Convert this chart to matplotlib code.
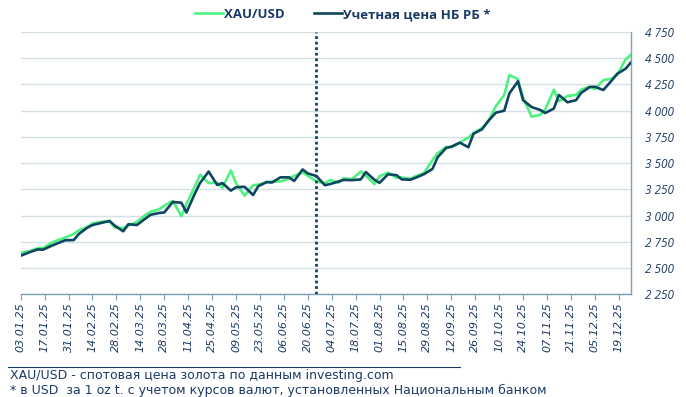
import pandas as pd
import numpy as np
import matplotlib
matplotlib.use('Agg')
import matplotlib.pyplot as plt
import matplotlib.dates as mdates
from matplotlib.ticker import FuncFormatter

# sample dates: every 3rd business day, 03.01.25 - 26.12.25
dates = pd.bdate_range('2025-01-03', '2025-12-26', freq='3B')

# XAU/USD spot (green)
xau = [2646, 2660, 2690, 2690, 2740, 2762, 2790, 2825, 2860, 2890,
       2926, 2940, 2950, 2885, 2880, 2905, 2940, 3006, 3037, 3060,
       3095, 3140, 2995, 3110, 3280, 3390, 3310, 3315, 3265, 3430,
       3308, 3190, 3290, 3295, 3318, 3325, 3325, 3352, 3380, 3410,
       3380, 3325, 3310, 3339, 3314, 3355, 3348, 3420, 3380, 3300,
       3375, 3410, 3360, 3365, 3350, 3375, 3405, 3530, 3594, 3655,
       3651, 3695, 3745, 3788, 3835, 3880, 4040, 4150, 4340, 4300,
       4125, 3943, 3960, 4013, 4200, 4090, 4140, 4150, 4200, 4230,
       4205, 4292, 4305, 4340, 4490, 4531]

# NB RB accounting price (dark)
nbrb = [2618, 2650, 2678, 2675, 2712, 2732, 2765, 2767, 2825, 2885,
        2910, 2930, 2948, 2905, 2850, 2918, 2910, 2972, 3008, 3025,
        3030, 3130, 3123, 3030, 3213, 3312, 3420, 3292, 3310, 3238,
        3270, 3275, 3196, 3280, 3320, 3315, 3365, 3365, 3330, 3440,
        3402, 3378, 3290, 3300, 3325, 3340, 3338, 3345, 3415, 3342,
        3312, 3394, 3385, 3345, 3342, 3360, 3395, 3445, 3556, 3645,
        3657, 3695, 3652, 3780, 3823, 3890, 3980, 4000, 4165, 4280,
        4100, 4035, 4007, 3978, 4020, 4150, 4080, 4100, 4170, 4225,
        4228, 4197, 4290, 4350, 4400, 4457]

tick_dates = pd.date_range('2025-01-03', '2025-12-19', freq='14D')
mid_line = pd.Timestamp('2025-06-25')

GREEN = '#4df27f'
DARK = '#0d4660'
NAVY = '#1c3a66'
GRID = '#d3e0e6'

plt.rcParams['font.family'] = ['DejaVu Sans']

fig = plt.figure(figsize=(6.86, 3.97), dpi=100)
ax = fig.add_axes([0.0302, 0.2587, 0.8892, 0.6607])

ax.plot(dates, xau, color=GREEN, lw=1.9, label='XAU/USD', zorder=3)
ax.plot(dates, nbrb, color=DARK, lw=1.9, label='Учетная цена НБ РБ *', zorder=4)
ax.axvline(mid_line, color=DARK, lw=2, ls=(0, (1, 1)), zorder=5)

ax.set_ylim(2250, 4750)
ax.set_yticks(np.arange(2250, 4751, 250))
ax.yaxis.set_major_formatter(FuncFormatter(lambda v, p: f'{v:,.0f}'.replace(',', ' ')))
ax.yaxis.tick_right()
ax.grid(axis='y', color=GRID, lw=1)
ax.set_axisbelow(True)

ax.set_xlim(pd.Timestamp('2025-01-03'), pd.Timestamp('2025-12-26'))
ax.set_xticks(tick_dates)
ax.xaxis.set_major_formatter(mdates.DateFormatter('%d.%m.%y'))

for s in ['top', 'left']:
    ax.spines[s].set_visible(False)
for s in ['bottom', 'right']:
    ax.spines[s].set_color('#7f9fb5')
    ax.spines[s].set_linewidth(1)

ax.tick_params(axis='x', length=4, color='#7f9fb5', labelrotation=90,
               labelsize=8, labelcolor=NAVY, pad=2)
ax.tick_params(axis='y', length=0, labelsize=8.5, labelcolor=NAVY, pad=10)
for lab in ax.get_xticklabels():
    lab.set_fontstyle('italic')
for lab in ax.get_yticklabels():
    lab.set_fontstyle('italic')
    lab.set_family('Open Sans')

leg = fig.legend(loc='upper center', bbox_to_anchor=(0.5, 1.01), ncol=2, frameon=False,
                 handlelength=2.1, handletextpad=0.1, columnspacing=2.2,
                 prop={'family': 'Open Sans', 'weight': 'bold', 'size': 9.5})
for t in leg.get_texts():
    t.set_color(NAVY)

fig.add_artist(plt.Line2D([8 / 686, 460 / 686], [1 - 366.5 / 397] * 2,
                          color=NAVY, lw=0.8, transform=fig.transFigure))
fig.text(10 / 686, 1 - 375 / 397, 'XAU/USD - спотовая цена золота по данным investing.com',
         fontsize=9, color=NAVY, va='center')
fig.text(10 / 686, 1 - 390 / 397,
         '* в USD  за 1 oz t. с учетом курсов валют, установленных Национальным банком',
         fontsize=9, color=NAVY, va='center')

fig.savefig('out.png', dpi=100)
